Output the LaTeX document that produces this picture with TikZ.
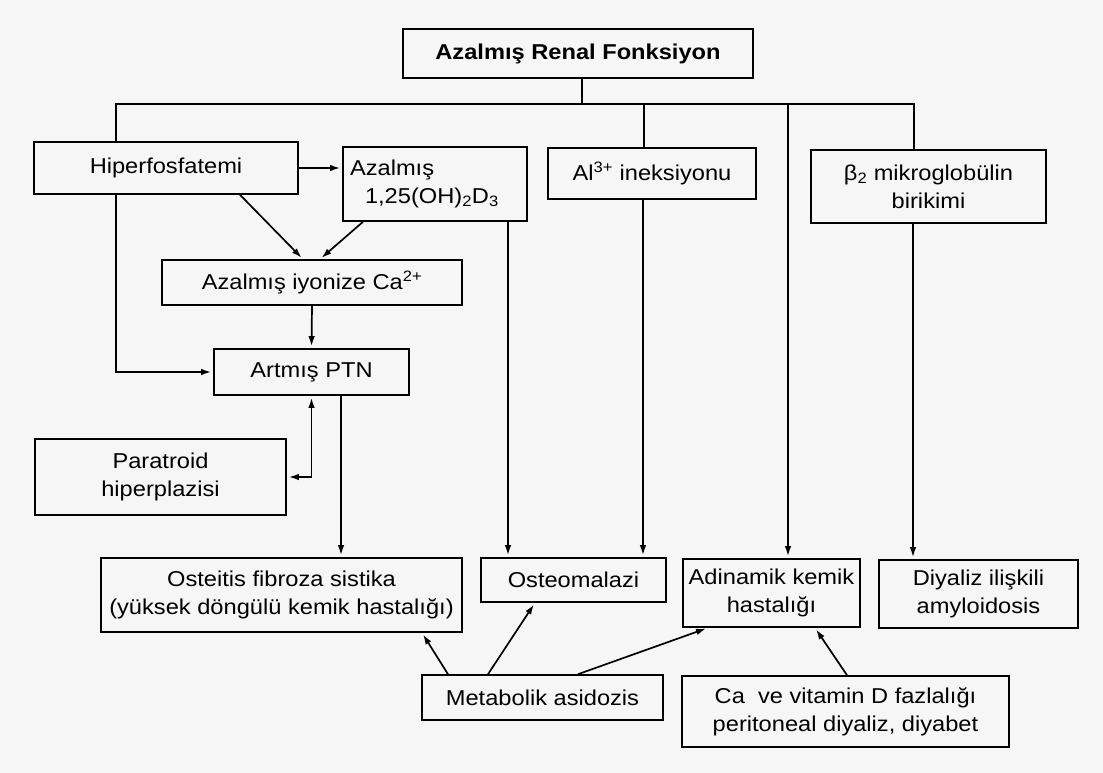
\documentclass[tikz,border=0pt]{standalone}
\usepackage{fontspec}
\setmainfont{Liberation Sans}[FakeStretch=1.1]
\usetikzlibrary{arrows.meta}
\definecolor{zemin}{HTML}{F6F6F6}
\begin{document}
\begin{tikzpicture}[x=1pt,y=-1pt,
		font=\fontsize{21.5}{28}\selectfont,
		kutu/.style={draw,line width=1.6pt,inner sep=0pt,align=center},
		ok/.style={->,line width=1.7pt,shorten >=2pt},
		>={Latex[length=10pt,width=6.5pt]}]
		% Zemin
		\fill[zemin] (0,0) rectangle (1103,773);
		\useasboundingbox (0,0) rectangle (1103,773);
		% Kutular
		\node[kutu,minimum width=350,minimum height=49] (renal) at (578,53.5) {\textbf{Azalmış Renal Fonksiyon}};
		\node[kutu,minimum width=264,minimum height=52] (hiper) at (166,168) {Hiperfosfatemi};
		\node[kutu,minimum width=184,minimum height=74,align=left,text width=170] (d3) at (435,184) {Azalmış\\\hspace*{15pt}1,25(OH)\textsubscript{2}D\textsubscript{3}};
		\node[kutu,minimum width=208,minimum height=51] (al) at (652,173.5) {Al\textsuperscript{3+} ineksiyonu};
		\node[kutu,minimum width=235,minimum height=73] (beta) at (928.5,186.5) {β\textsubscript{2} mikroglobülin\\birikimi};
		\node[kutu,minimum width=300,minimum height=45] (ion) at (312,282.5) {Azalmış iyonize Ca\textsuperscript{2+}};
		\node[kutu,minimum width=195,minimum height=46] (ptn) at (311.5,372) {Artmış PTN};
		\node[kutu,minimum width=251,minimum height=76] (para) at (160.5,477) {Paratroid\\hiperplazisi};
		\node[kutu,minimum width=361,minimum height=74] (ost) at (281.5,595) {Osteitis fibroza sistika\\(yüksek döngülü kemik hastalığı)};
		\node[kutu,minimum width=185,minimum height=44] (mal) at (573.5,580) {Osteomalazi};
		\node[kutu,minimum width=177,minimum height=68] (adi) at (771.5,593) {Adinamik kemik\\hastalığı};
		\node[kutu,minimum width=199,minimum height=68] (diy) at (978.5,594) {Diyaliz ilişkili\\amyloidosis};
		\node[kutu,minimum width=241,minimum height=45] (meta) at (542.5,697.5) {Metabolik asidozis};
		\node[kutu,minimum width=327,minimum height=71] (cavd) at (845.5,711.5) {Ca~~ve vitamin D fazlalığı\\peritoneal diyaliz, diyabet};
		% Dağıtım hattı
		\coordinate (busL) at (116,104);
		\coordinate (busR) at (914,104);
		\coordinate (kAl) at (644,104);
		\coordinate (kAdi) at (788,104);
		\draw[line width=1.7pt] ([xshift=4]renal.south) -- ([xshift=4]renal.south |- busL);
		\draw[line width=1.7pt] (busL |- hiper.north) -- (busL) -- (busR) -- (busR |- beta.north);
		\draw[line width=1.7pt] (kAl) -- (kAl |- al.north);
		\draw[ok] (kAdi) -- (kAdi |- adi.north);
		% Sol taraf
		\draw[ok] (hiper.east) -- (hiper.east -| d3.west);
		\draw[ok] (busL |- hiper.south) |- (ptn.west);
		\draw[ok] ([xshift=74]hiper.south) -- ([xshift=-9]ion.north);
		\draw[ok] ([xshift=-72]d3.south) -- ([xshift=8]ion.north);
		\draw[ok] (ion.south) -- (ptn.north);
		\draw[ok,<->,shorten <=2pt] (para.east) -| (ptn.south);
		\draw[ok] ([xshift=29.5]ptn.south) -- ([xshift=29.5]ptn.south |- ost.north);
		% Orta ve sağ
		\draw[ok] ([xshift=73]d3.south) -- ([xshift=73]d3.south |- mal.north);
		\draw[ok] ([xshift=-9]al.south) -- ([xshift=-9]al.south |- mal.north);
		\draw[ok] ([xshift=-15.5]beta.south) -- ([xshift=-15.5]beta.south |- diy.north);
		% Alt oklar
		\draw[ok] ([xshift=-94.5]meta.north) -- ([xshift=140.5]ost.south);
		\draw[ok] ([xshift=-54.5]meta.north) -- ([xshift=-38.5]mal.south);
		\draw[ok] ([xshift=35.5]meta.north) -- ([xshift=-63.5]adi.south);
		\draw[ok] ([xshift=1.5]cavd.north) -- ([xshift=43.5]adi.south);
	\end{tikzpicture}
\end{document}
